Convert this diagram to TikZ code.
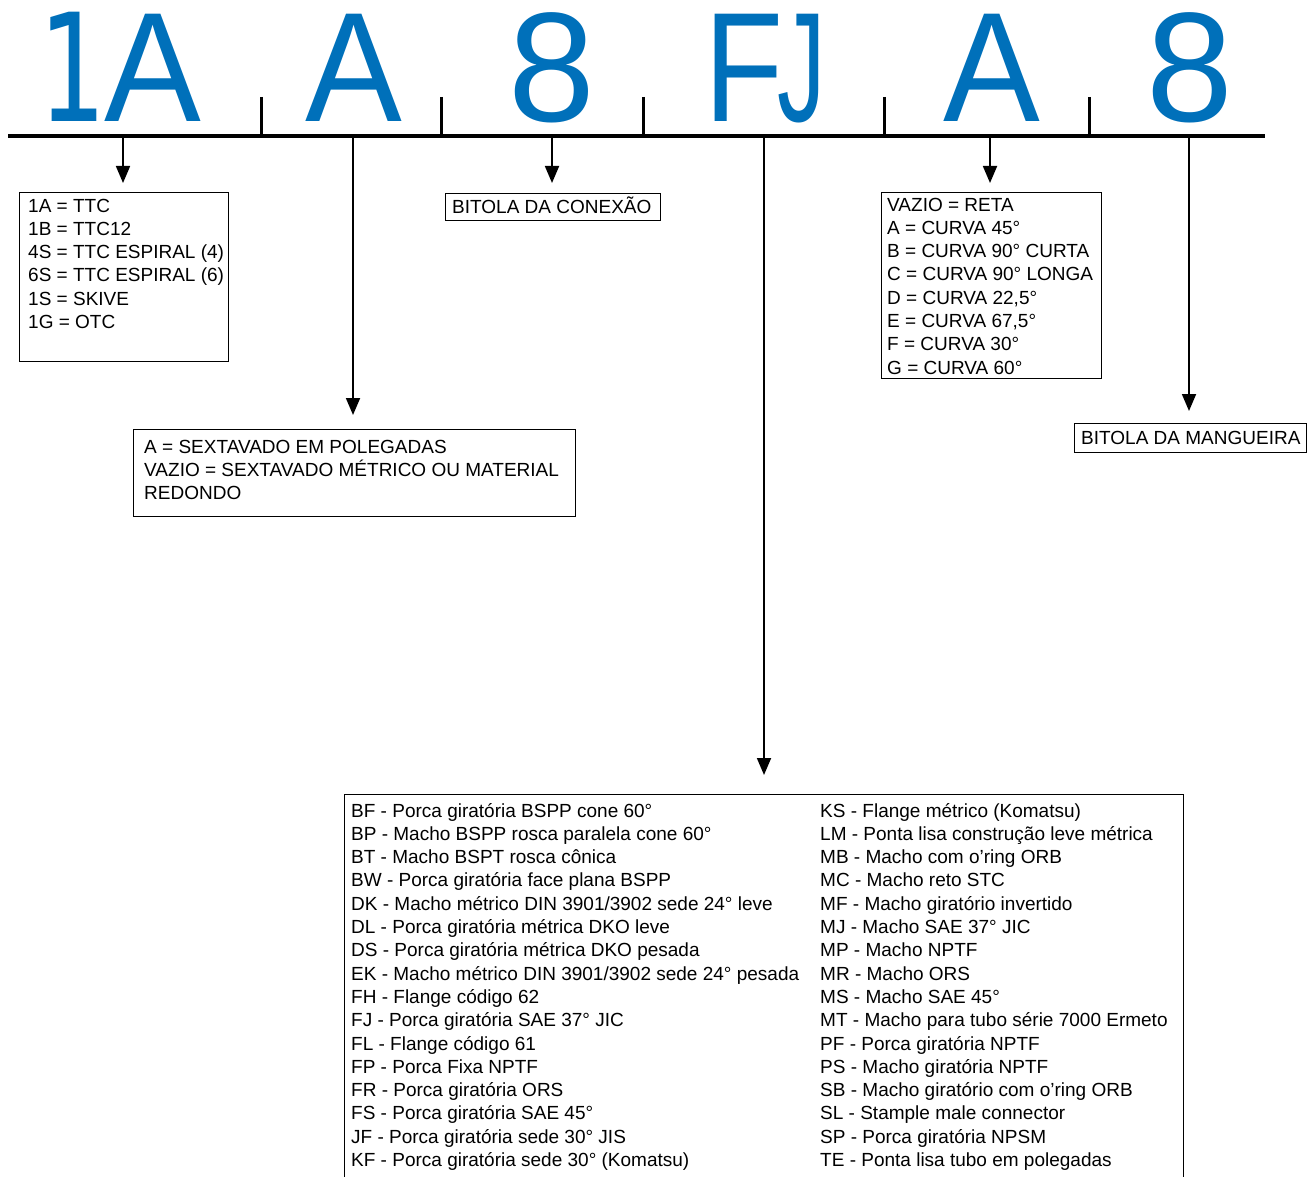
\documentclass[tikz,border=0pt]{standalone}
\usepackage{fontspec}
\setmainfont{Liberation Sans}
\newfontfamily\monofont{DejaVu Sans Mono}
\usetikzlibrary{arrows.meta}
\definecolor{codeblue}{RGB}{0,112,186}
\newcommand\firstline{\rule{0pt}{18pt}}
\newcommand\glyph[2]{\scalebox{#1}[1]{#2}}
\begin{document}
\begin{tikzpicture}[x=1pt,y=-1pt,
  code/.style={font=\fontsize{156}{156}\selectfont, text=codeblue, inner sep=0pt, anchor=base},
  boxframe/.style={draw, line width=1.2pt, anchor=north west, inner sep=0pt},
  boxtext/.style={font=\fontsize{19}{23.3}\selectfont, align=left, anchor=north west, inner sep=0pt},
  pointer/.style={line width=1.8pt, -{Triangle[width=14pt,length=17pt]}},
  tick/.style={line width=3pt},
  ]
\clip (0,0) rectangle (1311,1177);
\fill[white] (0,0) rectangle (1311,1177);

% code letters
\node[code, font=\monofont\fontsize{150}{150}\selectfont] (k1a) at (71,122) {\glyph{0.74}{1}};
\node[code] (k1b) at (152.5,122) {\glyph{0.93}{A}};
\node[code] (k2) at (353.5,122) {\glyph{0.93}{A}};
\node[code] (k3) at (551.5,122) {8};
\node[code] (k4a) at (744,122) {\glyph{0.83}{F}};
\node[code] (k4b) at (801.6,122) {\glyph{0.62}{J}};
\node[code] (k5) at (991.5,122) {\glyph{0.93}{A}};
\node[code] (k6) at (1189.5,122) {8};

% main line and ticks
\draw[line width=4.5pt] (8,136) -- (1265,136);
\foreach \x in {261,441,643,884,1089} \draw[tick] (\x,97) -- (\x,136);

% boxes
\node[boxframe, minimum width=209pt, minimum height=169pt] (b1) at (19,192) {};
\node[boxtext] (t1) at (28,193.8) {\firstline 1A = TTC\\1B = TTC12\\4S = TTC ESPIRAL (4)\\6S = TTC ESPIRAL (6)\\1S = SKIVE\\1G = OTC};

\node[boxframe, minimum width=442pt, minimum height=87pt] (b2) at (133,429) {};
\node[boxtext] (t2) at (144,434.8) {\firstline A = SEXTAVADO EM POLEGADAS\\VAZIO = SEXTAVADO MÉTRICO OU MATERIAL\\REDONDO};

\node[boxframe, minimum width=215pt, minimum height=27pt] (b3) at (445,193) {};
\node[boxtext] (t3) at (452,195.8) {\firstline BITOLA DA CONEXÃO};

\node[boxframe, minimum width=220pt, minimum height=186pt] (b5) at (881,192) {};
\node[boxtext] (t5) at (887,192.8) {\firstline VAZIO = RETA\\A = CURVA 45°\\B = CURVA 90° CURTA\\C = CURVA 90° LONGA\\D = CURVA 22,5°\\E = CURVA 67,5°\\F = CURVA 30°\\G = CURVA 60°};

\node[boxframe, minimum width=232pt, minimum height=29pt] (b7) at (1074,423) {};
\node[boxtext] (t7) at (1081,425.8) {\firstline BITOLA DA MANGUEIRA};

\node[boxframe, minimum width=839pt, minimum height=420pt] (b4) at (344,794) {};
\node[boxtext] (t4a) at (351,798.8) {\firstline BF - Porca giratória BSPP cone 60°\\
BP - Macho BSPP rosca paralela cone 60°\\
BT - Macho BSPT rosca cônica\\
BW - Porca giratória face plana BSPP\\
DK - Macho métrico DIN 3901/3902 sede 24° leve\\
DL - Porca giratória métrica DKO leve\\
DS - Porca giratória métrica DKO pesada\\
EK - Macho métrico DIN 3901/3902 sede 24° pesada\\
FH - Flange código 62\\
FJ - Porca giratória SAE 37° JIC\\
FL - Flange código 61\\
FP - Porca Fixa NPTF\\
FR - Porca giratória ORS\\
FS - Porca giratória SAE 45°\\
JF - Porca giratória sede 30° JIS\\
KF - Porca giratória sede 30° (Komatsu)};
\node[boxtext] (t4b) at (820,798.8) {\firstline KS - Flange métrico (Komatsu)\\
LM - Ponta lisa construção leve métrica\\
MB - Macho com o’ring ORB\\
MC - Macho reto STC\\
MF - Macho giratório invertido\\
MJ - Macho SAE 37° JIC\\
MP - Macho NPTF\\
MR - Macho ORS\\
MS - Macho SAE 45°\\
MT - Macho para tubo série 7000 Ermeto\\
PF - Porca giratória NPTF\\
PS - Macho giratória NPTF\\
SB - Macho giratório com o’ring ORB\\
SL - Stample male connector\\
SP - Porca giratória NPSM\\
TE - Ponta lisa tubo em polegadas};

% connectors
\coordinate (j1) at (123,136);
\coordinate (j2) at (353,136);
\coordinate (j3) at (552,136);
\coordinate (j4) at (764,136);
\coordinate (j5) at (990,136);
\coordinate (j6) at (1189,136);
\draw[pointer, shorten >=9pt] (j1) -- (j1 |- b1.north);
\draw[pointer, shorten >=14pt] (j2) -- (j2 |- b2.north);
\draw[pointer, shorten >=10pt] (j3) -- (j3 |- b3.north);
\draw[pointer, shorten >=19pt] (j4) -- (j4 |- b4.north);
\draw[pointer, shorten >=9pt] (j5) -- (j5 |- b5.north);
\draw[pointer, shorten >=12pt] (j6) -- (j6 |- b7.north);
\end{tikzpicture}
\end{document}
